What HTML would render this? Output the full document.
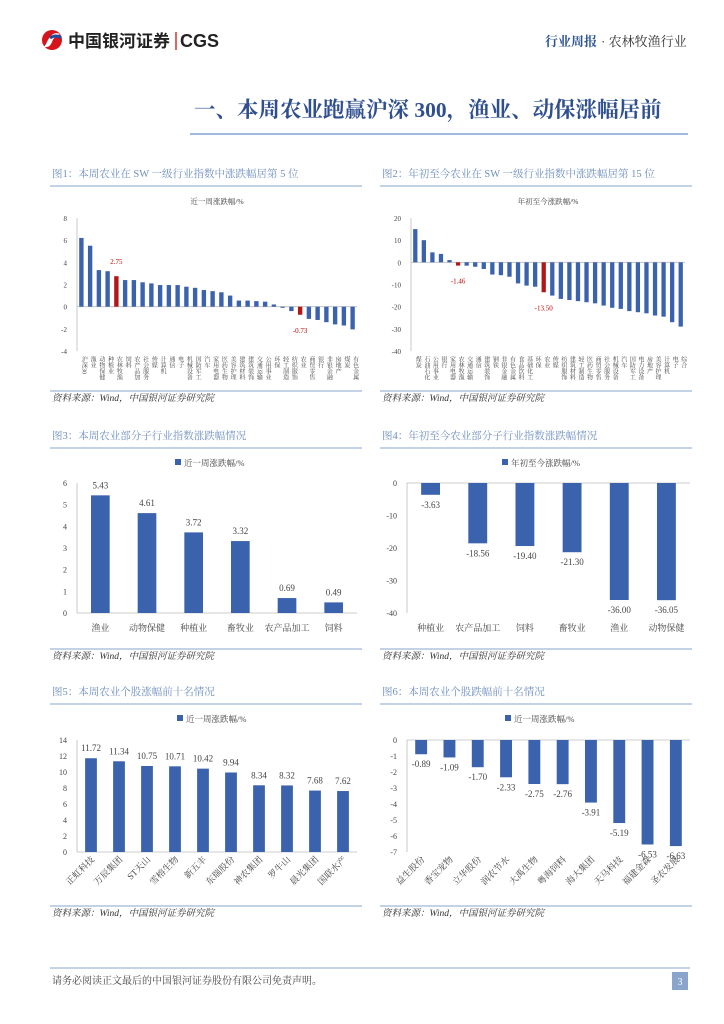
<!DOCTYPE html>
<html><head><meta charset="utf-8">
<style>
body{margin:0;background:#fff;}
#page{position:relative;width:724px;height:1024px;overflow:hidden;font-family:"Liberation Serif","Noto Serif CJK SC",serif;}
</style></head>
<body>
<div id="page">
<svg id="svg" width="724" height="1024" style="position:absolute;left:0;top:0">
  <g>
    <circle cx="52" cy="40" r="10" fill="#d7141b"/>
    <path d="M46 44 Q52 30 60 34 Q54 36 52 42 Q50 48 44 47 Z" fill="#fff"/>
    <path d="M50 38 Q56 34 61 38" stroke="#1d4fa0" stroke-width="3" fill="none"/>
  </g>
  <text x="68" y="47" font-family="Liberation Sans,Noto Sans CJK SC,sans-serif" font-weight="bold" font-size="17" fill="#222">中国银河证券</text>
  <line x1="176" y1="32" x2="176" y2="50" stroke="#c00" stroke-width="1.2"/>
  <text x="180" y="47" font-family="Liberation Sans,sans-serif" font-weight="bold" font-size="18" fill="#222">CGS</text>
  <text x="545" y="46" font-size="13" fill="#2f5597" font-weight="bold" font-family="Liberation Serif,Noto Serif CJK SC,serif">行业周报</text>
  <text x="601" y="46" font-size="13" fill="#333" font-family="Liberation Serif,Noto Serif CJK SC,serif">· 农林牧渔行业</text>
  <text x="194" y="117" font-size="21.5" font-weight="bold" fill="#2f4f8f" font-family="Liberation Serif,Noto Serif CJK SC,serif">一、本周农业跑赢沪深 300，渔业、动保涨幅居前</text>
  <line x1="190" y1="134" x2="688" y2="134" stroke="#4472c4" stroke-width="1"/>
  <g id="frames"></g>
  <g id="charts"></g>
  <line x1="50" y1="968" x2="690" y2="968" stroke="#8aa4cc" stroke-width="1"/>
  <text x="52" y="984" font-size="10" fill="#444" font-family="Liberation Serif,Noto Serif CJK SC,serif">请务必阅读正文最后的中国银河证券股份有限公司免责声明。</text>
  <rect x="672" y="972" width="16" height="18" fill="#8aa4cc"/>
  <text x="680" y="985" font-size="10" fill="#fff" text-anchor="middle">3</text>
</svg>
</div>
<script>
// ---- chart 1 data ----
const c1Cats=["沪深300","渔业","动物保健","种植业","农林牧渔","饲料","农产品加工","社会服务","传媒","计算机","通信","电子","机械设备","国防军工","汽车","家用电器","医药生物","美容护理","建筑材料","建筑装饰","交通运输","公用事业","环保","轻工制造","纺织服饰","农业","商贸零售","银行","非银金融","房地产","煤炭","有色金属"];
const c1Vals=[6.2,5.5,3.3,3.2,2.75,2.4,2.4,2.2,2.1,1.95,1.95,1.95,1.8,1.7,1.5,1.4,1.3,1.0,0.55,0.55,0.5,0.45,0.2,-0.1,-0.4,-0.73,-1.1,-1.2,-1.4,-1.6,-1.7,-2.05];
const c1Red=[4,25];
const c1Ticks=[8,6,4,2,0,-2,-4];
// ---- chart 2 data ----
const c2Cats=["煤炭","石油石化","公用事业","银行","家用电器","农林牧渔","交通运输","通信","建筑装饰","钢铁","非银金融","有色金属","食品饮料","基础化工","环保","农业","传媒","纺织服饰","建筑材料","轻工制造","医药生物","商贸零售","社会服务","机械设备","汽车","国防军工","电力设备","房地产","美容护理","计算机","电子","综合"];
const c2Vals=[15,10,4.5,3.8,1,-1.46,-1.5,-2,-3,-5.5,-5.8,-6.5,-9.5,-10.5,-11,-13.5,-15,-16.5,-17,-17.5,-18,-18.5,-19.5,-20.5,-21,-22,-22.5,-23,-24,-24.5,-27,-29];
const c2Red=[5,15];
const c2Ticks=[20,10,0,-10,-20,-30,-40];
// ---- chart 3 data ----
const c3Cats=["渔业","动物保健","种植业","畜牧业","农产品加工","饲料"];
const c3Vals=[5.43,4.61,3.72,3.32,0.69,0.49];
const c3Ticks=[6,5,4,3,2,1,0];
// ---- chart 4 data ----
const c4Cats=["种植业","农产品加工","饲料","畜牧业","渔业","动物保健"];
const c4Vals=[-3.63,-18.56,-19.40,-21.30,-36.00,-36.05];
const c4Ticks=[0,-10,-20,-30,-40];
// ---- chart 5 data ----
const c5Cats=["正虹科技","万辰集团","ST天山","雪榕生物","新五丰","东瑞股份","神农集团","罗牛山","晨光集团","国联水产"];
const c5Vals=[11.72,11.34,10.75,10.71,10.42,9.94,8.34,8.32,7.68,7.62];
const c5Ticks=[14,12,10,8,6,4,2,0];
// ---- chart 6 data ----
const c6Cats=["益生股份","香宝宠物","立华股份","润农节水","大禹生物","粤海饲料","海大集团","天马科技","福建金森","圣农发展"];
const c6Vals=[-0.89,-1.09,-1.70,-2.33,-2.75,-2.76,-3.91,-5.19,-6.53,-6.63];
const c6Ticks=[0,-1,-2,-3,-4,-5,-6,-7];

const NS="http://www.w3.org/2000/svg";
function mk(tag,attrs,parent,txt){const e=document.createElementNS(NS,tag);for(const k in attrs)e.setAttribute(k,attrs[k]);if(txt!==undefined)e.textContent=txt;parent.appendChild(e);return e;}
const frames=document.getElementById('frames');
const charts=document.getElementById('charts');
const SERIF="Liberation Serif,Noto Serif CJK SC,serif";

function panel(x,x2,titleY,title,srcY,name){
  const t=mk('text',{x:x+2,y:titleY,'font-size':10.5,fill:'#6f8fc0','font-family':SERIF},frames,title);
  
  
  mk('line',{x1:x,y1:titleY+9,x2:x2,y2:titleY+9,stroke:'#8aa4cc','stroke-width':1},frames);
  mk('line',{x1:x,y1:srcY-10,x2:x2,y2:srcY-10,stroke:'#8aa4cc','stroke-width':1},frames);
  const s=mk('text',{x:x+2,y:srcY,'font-size':9.5,fill:'#333','font-family':SERIF,'font-style':'italic'},frames,'资料来源：Wind，中国银河证券研究院');
  
  
}
panel(50,362,177,"图1：本周农业在 SW 一级行业指数中涨跌幅居第 5 位",401,"fig1");
panel(380,692,177,"图2：年初至今农业在 SW 一级行业指数中涨跌幅居第 15 位",401,"fig2");
panel(50,362,439,"图3：本周农业部分子行业指数涨跌幅情况",659,"fig3");
panel(380,692,439,"图4：年初至今农业部分子行业指数涨跌幅情况",659,"fig4");
panel(50,362,695,"图5：本周农业个股涨幅前十名情况",916,"fig5");
panel(380,692,695,"图6：本周农业个股跌幅前十名情况",916,"fig6");

function chart(o){
  const g=mk('g',{},charts);
  
  
  const tmax=o.ticks[0],tmin=o.ticks[o.ticks.length-1];
  const y=v=>o.yTop+(tmax-v)/(tmax-tmin)*(o.yBot-o.yTop);
  const n=o.cats.length,bw=(o.x2-o.x1)/n;
  const xc=i=>o.x1+bw*(i+0.5);
  o.ticks.forEach(t=>{
    const tl=mk('text',{x:o.x1-10,y:y(t)+3,'font-size':o.tfs||8,fill:'#444','text-anchor':'end','font-family':SERIF},g,String(t));
    
    
  });
  mk('line',{x1:o.x1,y1:o.yTop,x2:o.x1,y2:o.yBot,stroke:'#bbb','stroke-width':0.8},g);
  mk('line',{x1:o.x1,y1:y(0),x2:o.x2,y2:y(0),stroke:'#bbb','stroke-width':0.8},g);
  if(o.legend){
    const lx=o.legendX;
    const r=mk('rect',{x:lx,y:o.legendY-7,width:6,height:6,fill:'#3b62ad'},g);
    
    
    const lt=mk('text',{x:lx+9,y:o.legendY,'font-size':8.5,fill:'#444','font-family':SERIF},g,o.legend);
    
    
  }
  if(o.ctitle){
    const ct=mk('text',{x:(o.x1+o.x2)/2,y:o.ctitleY,'font-size':7.5,fill:'#444','text-anchor':'middle','font-family':SERIF},g,o.ctitle);
    
    
  }
  o.vals.forEach((v,i)=>{
    const w=bw*o.bf, top=Math.min(y(v),y(0)), h=Math.abs(y(v)-y(0));
    const red=o.red&&o.red.includes(i);
    const b=mk('rect',{x:xc(i)-w/2,y:top,width:w,height:Math.max(h,0.5),fill:red?'#b01818':'#3b62ad'},g);
    
    
    if(o.showVals||red){
      const ly=v>=0?y(v)-(red?12:7):y(v)+(red?18:13);
      const lv=mk('text',{x:xc(i),y:ly,'font-size':o.vfs||9,fill:red?'#c00000':'#444','text-anchor':'middle','font-family':SERIF},g,v.toFixed(2));
      
      
    }
    const cx=xc(i);
    if(o.rot==='v'){
      const cl=mk('text',{x:cx+2,y:o.labY,'font-size':6,fill:'#444','font-family':SERIF,'writing-mode':'tb'},g,o.cats[i].slice(0,4));
      
      
    }else if(o.rot==='d'){
      const cl=mk('text',{x:cx+4,y:o.labY,'font-size':9,fill:'#444','font-family':SERIF,'text-anchor':'end',transform:`rotate(-45 ${cx+4} ${o.labY})`},g,o.cats[i]);
      
      
    }else{
      const cl=mk('text',{x:cx,y:o.labY,'font-size':9,fill:'#444','font-family':SERIF,'text-anchor':'middle'},g,o.cats[i]);
      
      
    }
  });
}
chart({name:'chart-weekly-sw-industries',cats:c1Cats,vals:c1Vals,red:c1Red,ticks:c1Ticks,x1:77,x2:357,yTop:218,yBot:351,bf:0.5,rot:'v',labY:356,ctitle:'近一周涨跌幅/%',ctitleY:204,tfs:7,vfs:7});
chart({name:'chart-ytd-sw-industries',cats:c2Cats,vals:c2Vals,red:c2Red,ticks:c2Ticks,x1:411,x2:685,yTop:218,yBot:351,bf:0.5,rot:'v',labY:356,ctitle:'年初至今涨跌幅/%',ctitleY:204,tfs:7,vfs:7});
chart({name:'chart-weekly-sub-industries',cats:c3Cats,vals:c3Vals,ticks:c3Ticks,x1:77,x2:357,yTop:483,yBot:613,bf:0.4,labY:631,showVals:true,legend:'近一周涨跌幅/%',legendX:175,legendY:466});
chart({name:'chart-ytd-sub-industries',cats:c4Cats,vals:c4Vals,ticks:c4Ticks,x1:407,x2:690,yTop:483,yBot:613,bf:0.4,labY:631,showVals:true,legend:'年初至今涨跌幅/%',legendX:502,legendY:466});
chart({name:'chart-top10-gainers',cats:c5Cats,vals:c5Vals,ticks:c5Ticks,x1:77,x2:357,yTop:740,yBot:852,bf:0.42,rot:'d',labY:860,showVals:true,legend:'近一周涨跌幅/%',legendX:177,legendY:722});
chart({name:'chart-top10-losers',cats:c6Cats,vals:c6Vals,ticks:c6Ticks,x1:407,x2:690,yTop:740,yBot:852,bf:0.42,rot:'d',labY:860,showVals:true,legend:'近一周涨跌幅/%',legendX:505,legendY:722});
</script>
</body></html>
